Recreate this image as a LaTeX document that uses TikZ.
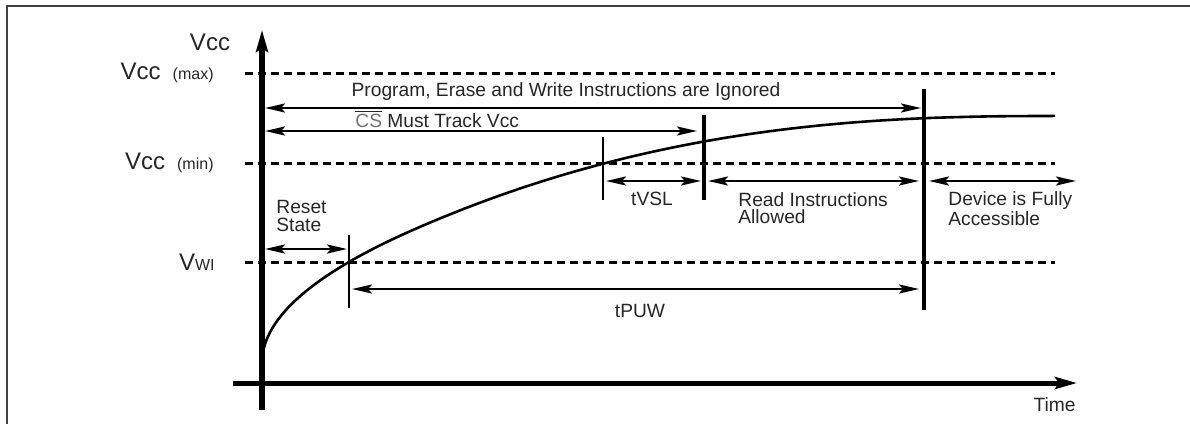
\documentclass[tikz,border=0pt]{standalone}
\usepackage{fontspec}
\setmainfont{Liberation Sans}
\usetikzlibrary{arrows.meta}

\begin{document}
\begin{tikzpicture}[x=0.5pt,y=-0.5pt]
        \tikzstyle{every node} = [inner sep=0pt, align=left, text=black!85, font=\fontsize{9.6}{8.8}\selectfont]
        \tikzstyle{vlabel} = [anchor=east, font=\fontsize{12}{12}\selectfont]
        \tikzstyle{threshold} = [line width=1.5pt, dash pattern=on 4pt off 2.5pt]
        \tikzstyle{span} = [<->, line width=1.3pt]
        \tikzstyle{axis} = [-{Stealth[length=11pt,width=6pt,inset=2pt]}, line width=3pt]
        \tikzset{>={Stealth[length=10pt,width=4.5pt,inset=2pt]}}
        \useasboundingbox (0,0) rectangle (1190,424);
        % frame
        \draw[line width=1.2pt, black!75] (7,424) -- (7,6) -- (1190,6);
        % voltage levels
        \node[vlabel] (max) at (214,73) {Vcc\hspace{6pt}{\fontsize{8}{8}\selectfont (max)}};
        \node[vlabel] (min) at (214,163) {Vcc\hspace{6pt}{\fontsize{8}{8}\selectfont (min)}};
        \node[vlabel] (wi) at (215,262) {V{\fontsize{8}{8}\selectfont WI}};
        \foreach \name in {max, min}
            \draw[threshold] (\name.east) ++(31,0) -- ++(810,0);
        \draw[threshold] (wi.east) ++(30,0) -- ++(810,0);
        % axes
        \coordinate (ybot) at (262,410);
        \coordinate (ytop) at (262,30);
        \coordinate (xleft) at (233,383);
        \coordinate (xright) at (1077,383);
        \draw[axis] (ybot) -- (ytop);
        \draw[axis, line width=2.5pt] (xleft) -- (xright);
        \node[font=\fontsize{12}{12}\selectfont] (vcc) at (210,42) {Vcc};
        \node[anchor=east] (time) at (1076,405) {Time};
        % supply ramp
        \draw[line width=1.3pt]
            plot[domain=0:12.247, samples=40] ({262+\x*\x},{363-10.83*\x})
            -- plot[domain=150:790, samples=60] ({262+\x},{230.4-114.4*(1-((793-\x)/643)^2.48)})
            -- (1055,115.8);
        % time marks
        \foreach \name/\x/\top/\bot/\w in {mwi/349/235/308/1.3pt, mmin/603/137/200/1.2pt,
                                           mcs/704/115/200/2.3pt, mpuw/924/89/310/1.6pt}
        {
            \coordinate (\name-a) at (\x,\top);
            \coordinate (\name-b) at (\x,\bot);
            \draw[line width=\w] (\name-a) -- (\name-b);
        }
        % spans
        \foreach \name/\x/\y in {pa/265/108, pb/921/108, ca/265/131, cb/697/131,
                                 va/606/181, vb/701/181, ra/708/181, rb/919/181,
                                 da/929/181, db/1076/181, sa/265/249, sb/347/249,
                                 ua/352/289, ub/919/289}
            \coordinate (\name) at (\x,\y);
        \foreach \from/\to in {pa/pb, ca/cb, va/vb, ra/rb, da/db, sa/sb, ua/ub}
            \draw[span] (\from) -- (\to);
        % labels
        \node (prog) at (566,92) {Program, Erase and Write Instructions are Ignored};
        \node[anchor=west] (cs) at (355,119) {$\overline{\mbox{\color{black!55}CS}}$ Must Track Vcc};
        \node (tvsl) at (652,199) {tVSL};
        \node[anchor=west] (read) at (738,208) {Read Instructions\\Allowed};
        \node[anchor=west] (device) at (948,209) {Device is Fully\\Accessible};
        \node[anchor=west] (reset) at (276,216) {Reset\\State};
        \node (tpuw) at (640,311) {tPUW};
\end{tikzpicture}
\end{document}
